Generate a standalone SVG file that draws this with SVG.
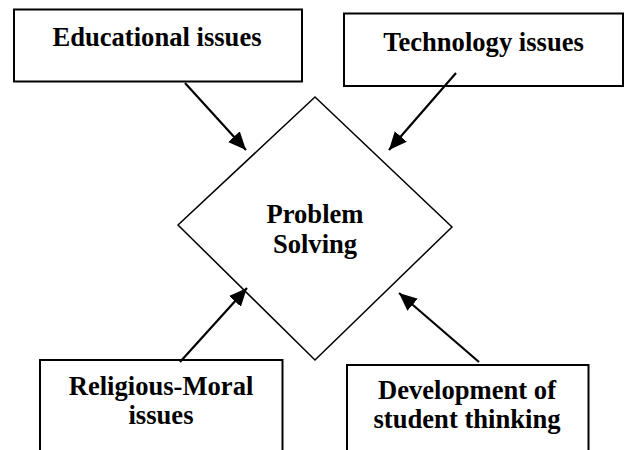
<svg xmlns="http://www.w3.org/2000/svg" width="624" height="450" viewBox="0 0 624 450">
<style>
.box{fill:#fff;stroke:#000;stroke-width:2}
.dia{fill:#fff;stroke:#000;stroke-width:1.5}
.t{font-family:"Liberation Serif","Times New Roman",serif;font-weight:bold;font-size:26.6px;fill:#000;text-anchor:middle}
.c{stroke:#000;stroke-width:2.2;fill:none;marker-end:url(#ah)}
</style>
<defs>
<marker id="ah" markerUnits="userSpaceOnUse" markerWidth="20" markerHeight="16" refX="18" refY="8" orient="auto">
<path d="M0,0 L18,8 L0,16 Z" fill="#000"/>
</marker>
</defs>
<rect width="624" height="450" fill="#fff"/>
<g id="problem-solving">
<polygon class="dia" points="315,97 452,227 315,360 178,225"/>
<text class="t" x="315" y="223">Problem</text>
<text class="t" x="315" y="253">Solving</text>
</g>
<g id="educational">
<rect class="box" x="14" y="9.5" width="288" height="72"/>
<text class="t" x="157" y="45.5">Educational issues</text>
</g>
<g id="technology">
<rect class="box" x="344" y="13.5" width="279" height="72.5"/>
<text class="t" x="483.5" y="50.5">Technology issues</text>
</g>
<g id="religious">
<rect class="box" x="40" y="360" width="242.5" height="110"/>
<text class="t" x="161" y="395">Religious-Moral</text>
<text class="t" x="161" y="424">issues</text>
</g>
<g id="development">
<rect class="box" x="347" y="365" width="241.5" height="110"/>
<text class="t" x="467" y="399">Development of</text>
<text class="t" x="467" y="427.5">student thinking</text>
</g>
<g id="connectors">
<line class="c" x1="185" y1="83" x2="246" y2="150"/>
<line class="c" x1="456" y1="73" x2="389" y2="150"/>
<line class="c" x1="180" y1="362" x2="247" y2="288"/>
<line class="c" x1="479" y1="362" x2="399" y2="293"/>
</g>
</svg>
